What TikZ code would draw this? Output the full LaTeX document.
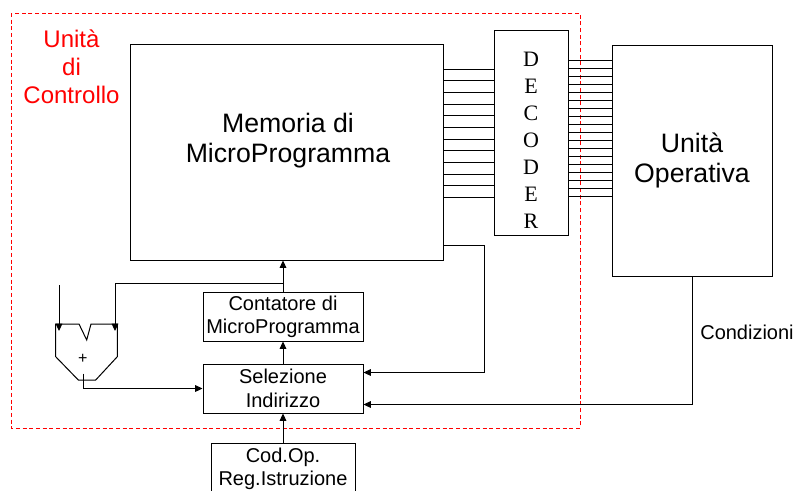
\documentclass[tikz,border=0pt]{standalone}
\usepackage{fontspec}
\setmainfont{Liberation Sans}
\newfontfamily\decfont{Liberation Serif}
\usepackage{tikz}
\usetikzlibrary{arrows.meta, calc}
\definecolor{UCRed}{RGB}{255,0,0}

\begin{document}
\begin{tikzpicture}[x=0.75pt, y=-0.75pt, line width=0.75pt,
      blk/.style={draw, rectangle, inner sep=0pt, align=center},
      smalltxt/.style={font=\fontsize{15}{17.5}\selectfont, align=center},
      bigtxt/.style={font=\fontsize{20}{22.5}\selectfont, align=center},
      arr/.style={-{Triangle[length=5.5pt, width=5pt]}}
    ]
    \useasboundingbox (0,0) rectangle (800,490);

    \draw[UCRed, dash pattern=on 3pt off 2pt] (11,13) rectangle (580,428);
    \node[text=UCRed, font=\fontsize{18}{21.2}\selectfont, align=center] (uctxt) at (71.5,67)
          {Unità\\di\\Controllo};

    \node[blk, minimum width=234.75pt, minimum height=162pt] (mem) at (286.5,152) {};
    \node[bigtxt] (memtxt) at (288,141) {Memoria di\\MicroProgramma};

    \node[blk, minimum width=55.5pt, minimum height=153.75pt] (dec) at (531,132.5) {};
    \node[font=\decfont\fontsize{16.5}{20.3}\selectfont, align=center] (dectxt) at (531,140)
          {D\\E\\C\\O\\D\\E\\R};

    \node[blk, bigtxt, minimum width=120pt, minimum height=173.25pt] (uo) at (692,160.5)
          {Unità\\Operativa};

    \node[blk, smalltxt, minimum width=120pt, minimum height=36.75pt] (cnt) at (283,316.5)
          {Contatore di\\MicroProgramma};
    \node[blk, smalltxt, minimum width=120pt, minimum height=36.75pt] (sel) at (283,388.5)
          {Selezione\\Indirizzo};
    \node[blk, smalltxt, minimum width=108pt, minimum height=39pt] (cod) at (283,469)
          {Cod.Op.\\Reg.Istruzione};

    \foreach \i [evaluate=\i as \yy using 69.3+11.64*\i] in {0,...,11}{
      \draw (mem.east |- 0,\yy) -- (dec.west |- 0,\yy);
    }
    \foreach \i [evaluate=\i as \yy using 60.3+8*\i] in {0,...,17}{
      \draw (dec.east |- 0,\yy) -- (uo.west |- 0,\yy);
    }

    \draw (55.7,324) -- (79,324) -- (86.7,340) -- (91,324) -- (117.3,324)
          -- (117.3,356.7) -- (95.7,380) -- (78.3,380) -- (55.7,356.7) -- cycle;
    \node[inner sep=0pt, font=\fontsize{12}{12}\selectfont] (plus) at (82.7,359) {+};

    \coordinate (ina)     at (59,331);
    \coordinate (inafree) at (59,285);
    \coordinate (inb)     at (115,331);
    \coordinate (addout)  at (83.3,373.7);
    \coordinate (selin1)  at ($(sel.north east)+(0,9)$);
    \coordinate (selin2)  at ($(sel.south east)+(0,-9)$);

    \draw[arr] (cod.north) -- (sel.south);
    \draw[arr] (sel.north) -- (cnt.south);
    \draw[arr] (cnt.north) -- (cnt.north |- mem.south);
    \draw[arr] (cnt.north) -- ++(0,-8) -| (inb);
    \draw[arr] (inafree) -- (ina);
    \draw[arr] (addout) |- (sel.west);
    \draw[arr] (mem.east |- 0,245) -- ++(41,0) |- (selin1);
    \draw[arr] (uo.south) |- (selin2);

    \node[smalltxt] (cond) at (747,332) {Condizioni};
  \end{tikzpicture}
\end{document}
